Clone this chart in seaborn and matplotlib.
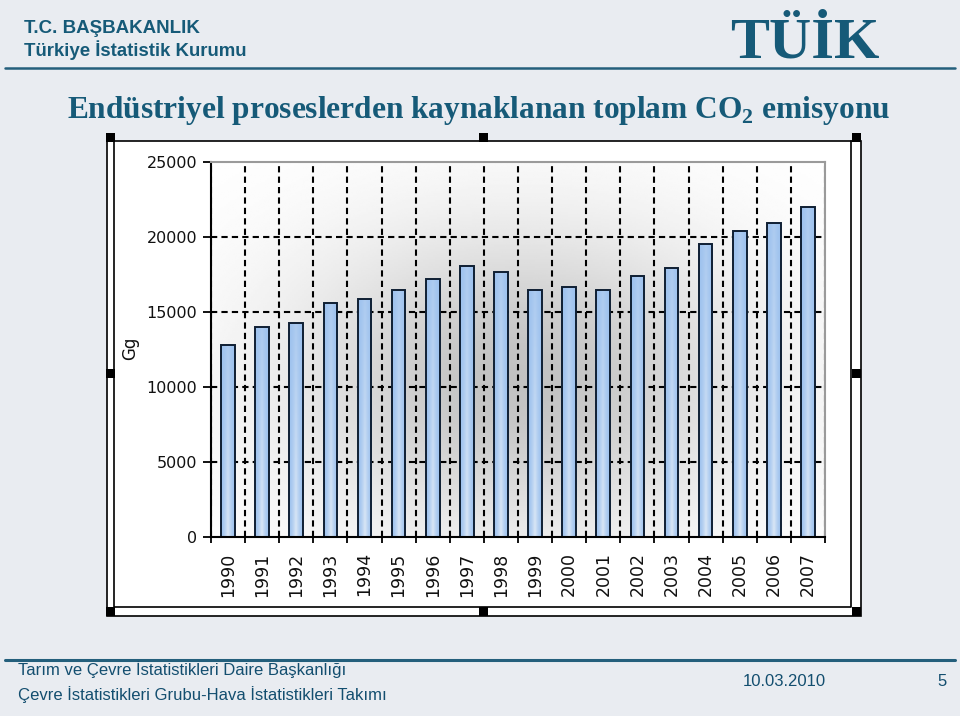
import numpy as np
import seaborn as sns
import matplotlib.pyplot as plt
from matplotlib.patches import Rectangle
from matplotlib.lines import Line2D
from matplotlib.colors import to_rgb

years = ['1990', '1991', '1992', '1993', '1994', '1995', '1996', '1997', '1998',
         '1999', '2000', '2001', '2002', '2003', '2004', '2005', '2006', '2007']
emissions = [12780, 13980, 14270, 15600, 15870, 16450, 17230, 18050, 17650,
             16450, 16670, 16450, 17380, 17930, 19560, 20400, 20930, 22000]
y_ticks = [0, 5000, 10000, 15000, 20000, 25000]

W, H = 960, 716
BG = '#E9ECF1'
TEAL = '#165A78'

sns.set_theme(style='white')
plt.rcParams['font.family'] = ['DejaVu Sans']
plt.rcParams['mathtext.fontset'] = 'custom'
plt.rcParams['mathtext.rm'] = 'Liberation Serif:bold'

fig = plt.figure(figsize=(W / 100, H / 100), dpi=100, facecolor=BG)


def fx(x):
    return x / W


def fy(y):
    return 1 - y / H


def box(x0, y0, x1, y1, **kw):
    fig.add_artist(Rectangle((fx(x0), fy(y1)), fx(x1) - fx(x0), fy(y0) - fy(y1),
                             transform=fig.transFigure, **kw))


def line(xs, ys, **kw):
    fig.add_artist(Line2D([fx(x) for x in xs], [fy(y) for y in ys],
                          transform=fig.transFigure, **kw))


# header / footer
fig.text(fx(24), fy(33), 'T.C. BAŞBAKANLIK', family='Liberation Sans',
         weight='bold', size=13.5, color=TEAL)
fig.text(fx(24), fy(56), 'Türkiye İstatistik Kurumu', family='Liberation Sans',
         weight='bold', size=13.4, color=TEAL)
fig.text(fx(730), fy(57), 'TÜİK', family='Liberation Serif', weight='bold',
         size=42, color=TEAL)
line([5, 955], [68, 68], color='#245F7C', lw=1.8)
fig.text(fx(67), fy(118), r'Endüstriyel proseslerden kaynaklanan toplam CO$_2$ emisyonu',
         family='Liberation Serif', weight='bold', size=22.6, color=TEAL)

line([5, 955], [660, 660], color='#245F7C', lw=2.2)
foot = dict(family='Liberation Sans', size=12, color='#134E6F')
fig.text(fx(18), fy(675), 'Tarım ve Çevre İstatistikleri Daire Başkanlığı', **foot)
fig.text(fx(18), fy(700), 'Çevre İstatistikleri Grubu-Hava İstatistikleri Takımı', **foot)
fig.text(fx(743), fy(686), '10.03.2010', **foot)
fig.text(fx(937), fy(686), '5', **foot)

# picture frame with handles
box(107, 141, 861, 616, facecolor='white', edgecolor='black', lw=1.2)
line([114, 114, 851, 851], [141, 607, 607, 141], color='black', lw=1.2)
for hx in (106, 479, 852):
    for hy in (133, 369, 607):
        if hx == 479 and hy == 369:
            continue
        box(hx, hy, hx + 9, hy + 9, facecolor='black', edgecolor='none')

# chart
ax = fig.add_axes([fx(211), fy(537), fx(825) - fx(211), fy(162) - fy(537)])
ax.set_zorder(5)
ax.set_facecolor('white')

# soft grey radial background of the plot area
gx, gy = np.meshgrid(np.linspace(211, 825, 300), np.linspace(162, 537, 200))
d2 = ((gx - 520) / 260) ** 2 + ((gy - 320) / 170) ** 2
shade = 1 - 0.24 * np.exp(-d2 * 1.3)
ax.imshow(shade, extent=(-0.5, 17.5, 25000, 0), cmap='gray', vmin=0, vmax=1,
          aspect='auto', zorder=0, interpolation='bilinear')

sns.barplot(x=years, y=emissions, ax=ax, color='#B4D0F0', saturation=1,
            width=0.4, edgecolor='#0F1F33', linewidth=1.4)

# light-blue gradient inside each bar
c_edge = np.array(to_rgb('#9EC2EE'))
c_mid = np.array(to_rgb('#DCE8F6'))
for p in ax.patches:
    x0, w, h = p.get_x(), p.get_width(), p.get_height()
    u = np.linspace(0, 1, 40)
    v = np.linspace(0, 1, 60)[:, None]
    k = (1 - np.abs(2 * u - 1)) ** 1.5 * (0.25 + 0.75 * v)
    img = c_edge + (c_mid - c_edge) * k[..., None]
    im = ax.imshow(img, extent=(x0, x0 + w, 0, h), origin='upper',
                   aspect='auto', zorder=1.5, interpolation='bilinear')
    im.set_clip_path(p)
    p.set_facecolor('none')
    p.set_zorder(2)

ax.set_xlim(-0.5, 17.5)
ax.set_ylim(0, 25000)
ax.set_yticks(y_ticks)
ax.set_yticklabels([str(t) for t in y_ticks])
ax.set_xticks(range(len(years)))
ax.set_xticklabels(years, rotation=90)
ax.set_xticks(np.arange(-0.5, len(years)), minor=True)
ax.tick_params(axis='x', which='major', length=0, pad=11, labelsize=12.5,
               labelcolor='#111111')
ax.tick_params(axis='x', which='minor', length=4, width=1.3, color='black',
               direction='out', bottom=True)
ax.tick_params(axis='y', which='major', length=6, width=1.3, color='black',
               direction='out', left=True, pad=4, labelsize=11.5,
               labelcolor='#111111')
ax.set_axisbelow(True)
ax.grid(which='minor', axis='x', color='black', linestyle=(0, (3, 2)), lw=1.5)
ax.grid(which='major', axis='y', color='black', linestyle=(0, (3, 2)), lw=1.5)
ax.grid(which='major', axis='x', visible=False)
for gl in ax.yaxis.get_gridlines():
    if gl.get_ydata()[0] in (0, 25000):
        gl.set_visible(False)
for s in ('left', 'bottom'):
    ax.spines[s].set_color('black')
    ax.spines[s].set_linewidth(1.5)
for s in ('top', 'right'):
    ax.spines[s].set_color('#9A9A9A')
    ax.spines[s].set_linewidth(1.5)
ax.set_xlabel('')
ax.set_ylabel('')
fig.text(fx(130), fy(348), 'Gg', rotation=90, ha='center', va='center',
         size=12, color='#111111', zorder=6)

fig.savefig('out.png', dpi=100, facecolor=BG)
